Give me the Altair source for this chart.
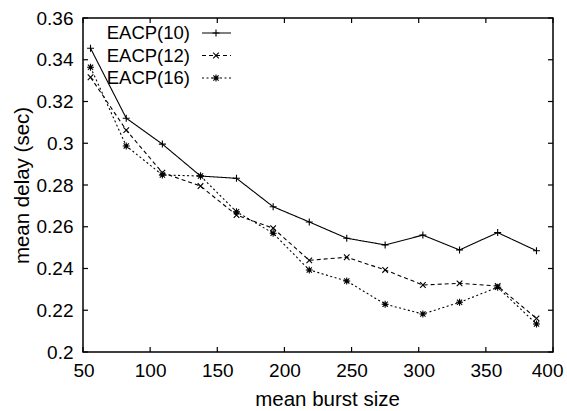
import altair as alt
import pandas as pd

# ---- data ----
burst = [55.6, 82.2, 109.1, 137.5, 164.3, 191.6, 218.5, 246.4, 275.0, 303.1, 330.4, 358.8, 387.7]
eacp10 = [0.3455, 0.3120, 0.2996, 0.2843, 0.2832, 0.2696, 0.2623, 0.2545, 0.2513, 0.2560, 0.2489, 0.2572, 0.2485]
eacp12 = [0.3316, 0.3063, 0.2859, 0.2795, 0.2656, 0.2593, 0.2439, 0.2454, 0.2393, 0.2321, 0.2329, 0.2316, 0.2161]
eacp16 = [0.3364, 0.2987, 0.2848, 0.2843, 0.2672, 0.2569, 0.2393, 0.2340, 0.2229, 0.2182, 0.2238, 0.2310, 0.2134]
series_names = ["EACP(10)", "EACP(12)", "EACP(16)"]
x_ticks = [50, 100, 150, 200, 250, 300, 350, 400]
y_ticks = [0.2, 0.22, 0.24, 0.26, 0.28, 0.3, 0.32, 0.34, 0.36]

# ---- styles ----
W, H = 470, 334
FONT = "Liberation Sans"
dashes = [[1, 0], [4, 3], [2, 2.5]]
plus = "M-1,0L1,0M0,-1L0,1"
cross = "M-0.8,-0.8L0.8,0.8M-0.8,0.8L0.8,-0.8"
star = "M-1,0L1,0M0,-1L0,1M-0.75,-0.75L0.75,0.75M-0.75,0.75L0.75,-0.75M-0.35,-0.35L0.35,-0.35L0.35,0.35L-0.35,0.35Z"
shapes = [plus, cross, star]

rows = []
for name, vals in zip(series_names, [eacp10, eacp12, eacp16]):
    for b, v in zip(burst, vals):
        rows.append({"x": b, "y": v, "series": name})
df = pd.DataFrame(rows)

xscale = alt.Scale(domain=[50, 400], nice=False, zero=False)
yscale = alt.Scale(domain=[0.2, 0.36], nice=False, zero=False)

xaxis = alt.Axis(values=x_ticks, title="mean burst size", ticks=False, domain=False, grid=False,
                 labelFontSize=19, labelFont=FONT, labelColor="black", labelPadding=9,
                 labelFlush=True, labelFlushOffset=10,
                 titleFontSize=20.5, titleFont=FONT, titleFontWeight="normal", titleColor="black",
                 titlePadding=9, titleX=244)
yaxis = alt.Axis(values=y_ticks, title="mean delay (sec)", ticks=False, domain=False, grid=False,
                 format="~g", labelFontSize=19, labelFont=FONT, labelColor="black", labelPadding=10,
                 labelFlush=False,
                 titleFontSize=20.5, titleFont=FONT, titleFontWeight="normal", titleColor="black",
                 titlePadding=4)

X = alt.X("x:Q", scale=xscale, axis=xaxis)
Y = alt.Y("y:Q", scale=yscale, axis=yaxis)

lines = alt.Chart(df).mark_line(color="black", strokeWidth=1.1).encode(
    x=X, y=Y,
    detail="series:N",
    strokeDash=alt.StrokeDash("series:N", scale=alt.Scale(domain=series_names, range=dashes), legend=None),
)
points = alt.Chart(df).mark_point(filled=False, color="black", strokeWidth=1.1, size=49, opacity=1).encode(
    x=X, y=Y,
    shape=alt.Shape("series:N", scale=alt.Scale(domain=series_names, range=shapes), legend=None),
)

# inward tick marks on all four sides
xt = pd.DataFrame({"x": x_ticks})
yt = pd.DataFrame({"y": y_ticks})
tick_style = dict(color="black", strokeWidth=1.2)
xticks_bottom = alt.Chart(xt).mark_rule(**tick_style).encode(x=X, y=alt.value(H), y2=alt.value(H - 5))
xticks_top = alt.Chart(xt).mark_rule(**tick_style).encode(x=X, y=alt.value(0), y2=alt.value(5))
yticks_left = alt.Chart(yt).mark_rule(**tick_style).encode(y=Y, x=alt.value(0), x2=alt.value(5))
yticks_right = alt.Chart(yt).mark_rule(**tick_style).encode(y=Y, x=alt.value(W), x2=alt.value(W - 5))

# key (text left of the line sample, like the original)
legend_layers = []
for i, name in enumerate(series_names):
    ly = 15 + 22.5 * i
    d = alt.Data(values=[{"s": name}])
    legend_layers.append(
        alt.Chart(d).mark_text(align="right", baseline="middle", fontSize=18.5, font=FONT, color="black").encode(
            x=alt.value(107), y=alt.value(ly), text="s:N")
    )
    legend_layers.append(
        alt.Chart(d).mark_rule(color="black", strokeWidth=1.1, strokeDash=dashes[i]).encode(
            x=alt.value(119), x2=alt.value(148), y=alt.value(ly))
    )
    legend_layers.append(
        alt.Chart(d).mark_point(filled=False, color="black", strokeWidth=1.1, size=49, opacity=1, shape=shapes[i]).encode(
            x=alt.value(133), y=alt.value(ly))
    )

chart = alt.layer(
    lines, points, xticks_bottom, xticks_top, yticks_left, yticks_right, *legend_layers
).properties(
    width=W, height=H,
    padding={"left": 83, "top": 18, "right": 14, "bottom": 59},
    autosize=alt.AutoSizeParams(type="none"),
    background="white",
).configure_view(
    stroke="black", strokeWidth=1.5
)

chart.save("out.html", embed_options={"renderer": "svg", "actions": False})
